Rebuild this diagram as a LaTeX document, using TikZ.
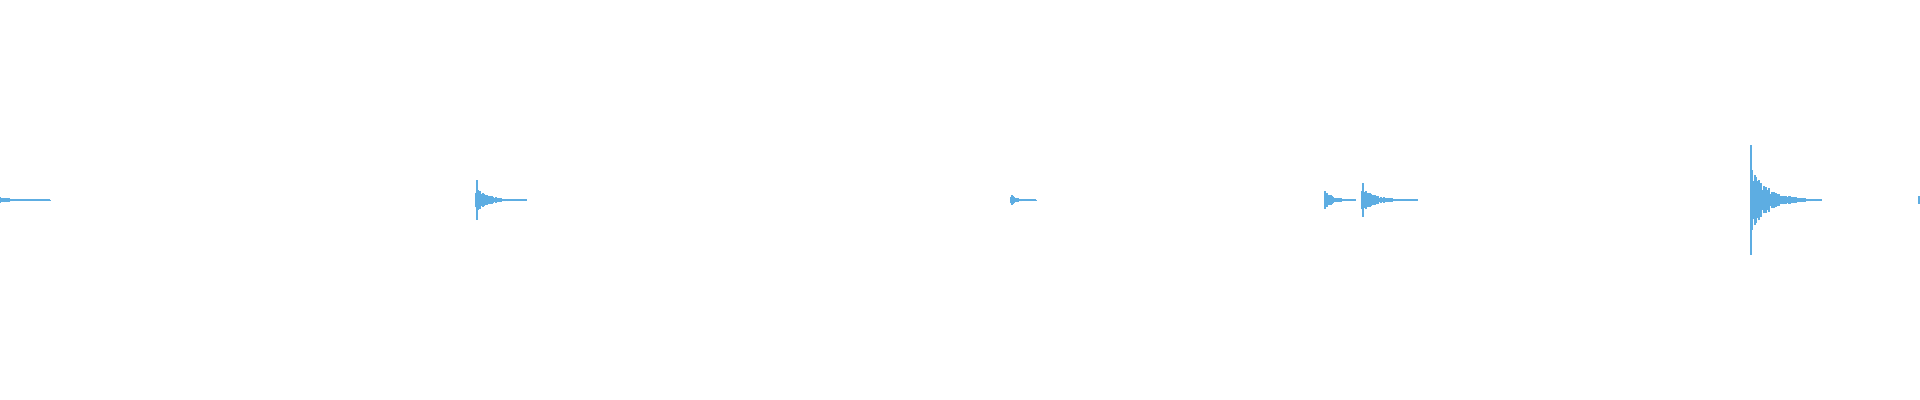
\documentclass[tikz,border=0pt]{standalone}
\usepackage{tikz}

\definecolor{wave}{HTML}{5DADE2}
\tikzset{wavebar/.style={draw=wave,line width=0.45pt}}

% one decaying burst: start x, peak height, length (pixels)
\newcommand{\burst}[3]{%
  \draw[wavebar] (#1,0) -- ++(#3,0);
  \foreach \i in {0,...,#3}{
    \pgfmathsetmacro{\h}{#2*exp(-4*\i/#3)*(0.45+0.55*rnd)+0.4}
    \draw[wavebar] (#1+\i,-\h) -- (#1+\i,\h);
  }}

\begin{document}
\begin{tikzpicture}[x=0.01cm,y=0.01cm]
\useasboundingbox (0,-200) rectangle (1920,200);
\pgfmathsetseed{7}

\burst{0}{3}{50}
\burst{476}{12}{50}
\draw[wavebar] (477,-20) -- (477,20);
\burst{1011}{6}{25}
\burst{1325}{11}{30}
\burst{1362}{13}{55}
\draw[wavebar] (1363,-17) -- (1363,17);
\burst{1751}{32}{70}
\draw[wavebar] (1751,-55) -- (1751,55);
\draw[wavebar] (1919,-4) -- (1919,4);

\end{tikzpicture}
\end{document}
